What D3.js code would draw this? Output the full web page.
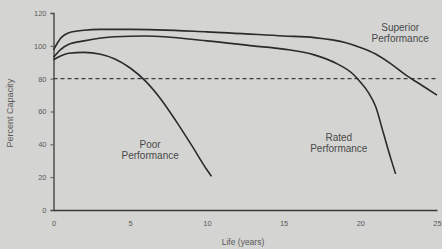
<!DOCTYPE html>
<html><head><meta charset="utf-8">
<script src="https://cdn.jsdelivr.net/npm/d3@7"></script>
<style>html,body{margin:0;padding:0;background:#d4d4d2;}svg{display:block;}</style>
</head><body>
<script>
const superiorYears = [0, 0.5, 1, 2, 3, 5, 10, 15, 17, 19, 20, 21, 22, 23, 24, 25];
const superiorValues = [97.5, 105, 108, 109.5, 110, 110, 108.5, 106, 105, 102, 99, 95, 89, 82, 76, 70];
const ratedYears = [0, 0.5, 1, 2, 4, 6, 10, 13, 15, 17, 18.5, 19.5, 20, 20.5, 21, 21.5, 22, 22.3];
const ratedValues = [93, 98, 101, 103, 105.5, 106, 103, 100, 98, 94.5, 89, 83, 78, 72, 63, 47, 31, 22];
const poorYears = [0, 0.5, 1, 2, 3, 4, 5, 6, 7, 8, 9, 10, 10.3];
const poorValues = [91.5, 94, 95.5, 96, 95, 92, 86.5, 78.5, 67.5, 54, 39.5, 24.5, 20.5];
const xTicks = [0, 5, 10, 15, 20, 25];
const yTicks = [0, 20, 40, 60, 80, 100, 120];
const thresholdValue = 80;
const labels = [
  {lines: ["Superior", "Performance"], year: 22.6, value: 109},
  {lines: ["Poor", "Performance"], year: 6.3, value: 38},
  {lines: ["Rated", "Performance"], year: 18.6, value: 42}
];

const W = 442, H = 249;
const svg = d3.select("body").append("svg").attr("width", W).attr("height", H);
svg.append("rect").attr("width", W).attr("height", H).attr("fill", "#d4d4d2");

const x = d3.scaleLinear().domain([0, 25]).range([53.5, 437]);
const y = d3.scaleLinear().domain([0, 120]).range([210, 13]);

const textCol = "#5a5a5a";
const lineCol = "#2b2b2b";
const font = "Liberation Sans, Arial, sans-serif";

// Y axis
const yAxis = svg.append("g").attr("transform", `translate(${x(0)},0)`)
  .call(d3.axisLeft(y).tickValues(yTicks).tickSize(3).tickPadding(4));
yAxis.select(".domain").attr("stroke", "#3a3a3a").attr("stroke-width", 1.3);
yAxis.selectAll(".tick line").attr("stroke", "#555");
yAxis.selectAll("text").attr("fill", textCol).attr("font-size", 7.5).attr("font-family", font);

// X axis
const xAxis = svg.append("g").attr("transform", `translate(0,${y(0)})`)
  .call(d3.axisBottom(x).tickValues(xTicks).tickSize(0).tickPadding(11));
xAxis.select(".domain").attr("stroke", "#3a3a3a").attr("stroke-width", 1.3);
xAxis.selectAll("text").attr("fill", textCol).attr("font-size", 7.5).attr("font-family", font);

// Axis titles
svg.append("text").attr("transform", `translate(13,${y(59)}) rotate(-90)`)
  .attr("text-anchor", "middle").attr("font-size", 9).attr("fill", textCol)
  .attr("font-family", font).text("Percent Capacity");
svg.append("text").attr("x", 243).attr("y", 245)
  .attr("text-anchor", "middle").attr("font-size", 8.5).attr("fill", textCol)
  .attr("font-family", font).text("Life (years)");

// Threshold dashed line
svg.append("line").attr("x1", x(0)).attr("x2", x(25))
  .attr("y1", y(thresholdValue)).attr("y2", y(thresholdValue))
  .attr("stroke", "#3c3c3c").attr("stroke-width", 1.3).attr("stroke-dasharray", "4,3");

// Curves
const line = d3.line().x(d => x(d[0])).y(d => y(d[1])).curve(d3.curveMonotoneX);
[[superiorYears, superiorValues], [ratedYears, ratedValues], [poorYears, poorValues]].forEach(([xs, vs]) => {
  const pts = xs.map((v, i) => [v, vs[i]]);
  svg.append("path").datum(pts).attr("d", line)
    .attr("fill", "none").attr("stroke", lineCol).attr("stroke-width", 1.6);
});

// Labels
labels.forEach(l => {
  const t = svg.append("text").attr("text-anchor", "middle")
    .attr("font-size", 10).attr("fill", "#4a4a4a")
    .attr("font-family", font);
  l.lines.forEach((s, i) => {
    t.append("tspan").attr("x", x(l.year)).attr("y", y(l.value) + i * 11).text(s);
  });
});
</script>
</body></html>
